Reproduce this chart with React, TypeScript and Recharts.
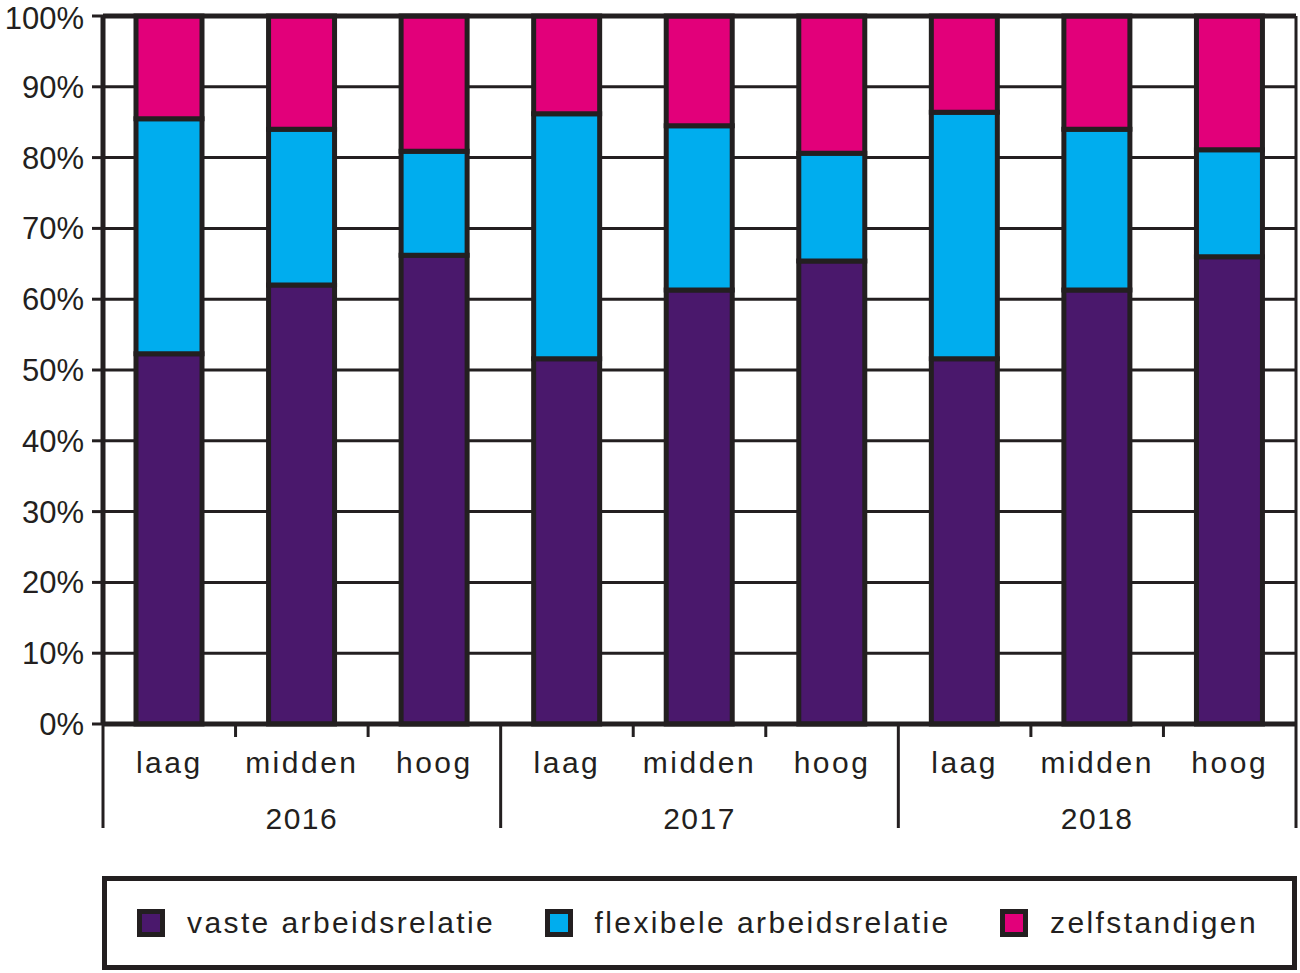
import React from "react";
import {
  Bar,
  BarChart,
  CartesianGrid,
  Legend,
  ReferenceLine,
  XAxis,
  YAxis,
} from "recharts";

const INK = "#231f20";
const PURPLE = "#4a186c";
const CYAN = "#00adee";
const MAGENTA = "#e2007a";
const FONT = "'Liberation Sans', Arial, sans-serif";

const years = ["2016", "2017", "2018"];
const levels = ["laag", "midden", "hoog"];
const yTicks = [0, 10, 20, 30, 40, 50, 60, 70, 80, 90, 100];
const seriesNames = ["vaste arbeidsrelatie", "flexibele arbeidsrelatie", "zelfstandigen"];

// aandeel per groep, in procent
const vaste = [52.3, 62.0, 66.2, 51.6, 61.3, 65.4, 51.6, 61.3, 66.0];
const flexibel = [33.2, 22.0, 14.7, 34.6, 23.2, 15.2, 34.8, 22.7, 15.1];
const zelfstandig = [14.5, 16.0, 19.1, 13.8, 15.5, 19.4, 13.6, 16.0, 18.9];

const data = years.flatMap((year, yi) =>
  levels.map((level, li) => {
    const i = yi * levels.length + li;
    return {
      key: `${year}-${level}`,
      year,
      level,
      vaste: vaste[i],
      flexibel: flexibel[i],
      zelfstandig: zelfstandig[i],
    };
  })
);

const W = 1300;
const H = 973;
const LEFT = 103;
const RIGHT = 4;
const BAND = (W - LEFT - RIGHT) / data.length;

function LevelTick(props: any) {
  const { x, y, payload } = props;
  const i = data.findIndex((d) => d.key === payload.value);
  const row = data[i];
  if (!row) return null;
  const groupStart = i % levels.length === 0;
  const last = i === data.length - 1;
  return (
    <g>
      <line
        x1={x - BAND / 2}
        x2={x - BAND / 2}
        y1={y}
        y2={groupStart ? y + 104 : y + 13}
        stroke={INK}
        strokeWidth={3}
      />
      {last && (
        <line x1={x + BAND / 2} x2={x + BAND / 2} y1={y} y2={y + 104} stroke={INK} strokeWidth={3} />
      )}
      <text
        x={x}
        y={y + 38}
        textAnchor="middle"
        dominantBaseline="central"
        fill={INK}
        fontSize={30}
        fontFamily={FONT}
        letterSpacing={2.5}
      >
        {row.level}
      </text>
      {i % levels.length === 1 && (
        <text
          x={x}
          y={y + 94}
          textAnchor="middle"
          dominantBaseline="central"
          fill={INK}
          fontSize={30}
          fontFamily={FONT}
          letterSpacing={1.5}
        >
          {row.year}
        </text>
      )}
    </g>
  );
}

function LegendBox(props: any) {
  const items = [...(props.payload || [])].sort(
    (a: any, b: any) => seriesNames.indexOf(a.value) - seriesNames.indexOf(b.value)
  );
  return (
    <div
      style={{
        boxSizing: "border-box",
        height: 94,
        border: `5px solid ${INK}`,
        display: "flex",
        alignItems: "center",
        justifyContent: "space-between",
        padding: "0 34px 0 30px",
        fontFamily: FONT,
        fontSize: 30,
        letterSpacing: 2.4,
        color: INK,
      }}
    >
      {items.map((entry: any) => (
        <div key={entry.value} style={{ display: "flex", alignItems: "center" }}>
          <span
            style={{
              display: "inline-block",
              boxSizing: "border-box",
              width: 28,
              height: 28,
              border: `5px solid ${INK}`,
              background: entry.color,
              marginRight: 22,
            }}
          />
          <span>{entry.value}</span>
        </div>
      ))}
    </div>
  );
}

export default function App() {
  return (
    <div style={{ position: "absolute", left: 0, top: 0, background: "#fff" }}>
      <BarChart
        width={W}
        height={H}
        data={data}
        margin={{ top: 16, right: RIGHT, bottom: 3, left: 0 }}
        barSize={66}
      >
        <CartesianGrid
          stroke={INK}
          strokeWidth={3}
          verticalCoordinatesGenerator={({ offset }: any) => [offset.left + offset.width]}
        />
        <XAxis
          dataKey="key"
          interval={0}
          height={152}
          tickSize={0}
          tickMargin={0}
          tickLine={false}
          axisLine={{ stroke: INK, strokeWidth: 5 }}
          tick={<LevelTick />}
        />
        <YAxis
          width={LEFT}
          domain={[0, 100]}
          ticks={yTicks}
          tickFormatter={(v: number) => `${v}%`}
          tickSize={11}
          tickMargin={8}
          tickLine={{ stroke: INK, strokeWidth: 3 }}
          axisLine={{ stroke: INK, strokeWidth: 5 }}
          tick={{ fill: INK, fontSize: 31, fontFamily: FONT }}
        />
        <Legend
          verticalAlign="bottom"
          content={<LegendBox />}
          wrapperStyle={{ left: 102, width: 1195, bottom: 3 }}
        />
        <Bar dataKey="vaste" name={seriesNames[0]} stackId="a" fill={PURPLE} stroke={INK} strokeWidth={5} isAnimationActive={false} />
        <Bar dataKey="flexibel" name={seriesNames[1]} stackId="a" fill={CYAN} stroke={INK} strokeWidth={5} isAnimationActive={false} />
        <Bar dataKey="zelfstandig" name={seriesNames[2]} stackId="a" fill={MAGENTA} stroke={INK} strokeWidth={5} isAnimationActive={false} />
        <ReferenceLine y={100} stroke={INK} strokeWidth={5} />
      </BarChart>
    </div>
  );
}
